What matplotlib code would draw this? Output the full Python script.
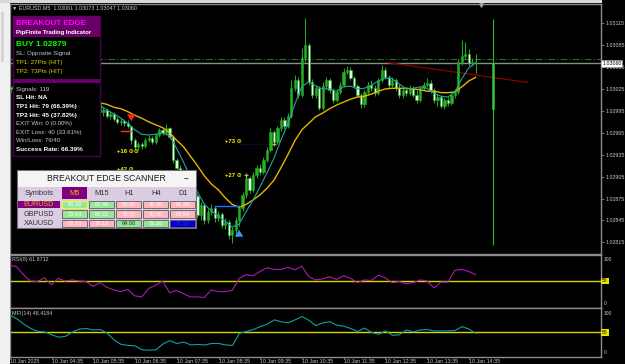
import numpy as np
import matplotlib.pyplot as plt
from matplotlib.patches import Rectangle
from matplotlib.transforms import blended_transform_factory

plt.rcParams['font.family'] = ['Liberation Sans', 'DejaVu Sans']

# EURUSD M5, 10 Jan 2025 from 03:35. prices in points above 1.00000 (3060 -> 1.03060)
opens = [3021, 3026, 3029, 3024, 3031, 3028, 3024, 3021, 3017, 3020, 3016, 3018, 3021, 3017, 3014,
         3017, 3013, 3016, 3011, 3009, 3010, 3006, 3007, 3009, 3004, 3002, 3004, 2993, 2996, 2988,
         2991, 2984, 2980, 2981, 2978, 2974, 2955, 2946, 2950, 2947, 2955, 2958, 2952, 2962, 2969,
         2965, 2971, 2959, 2928, 2917, 2911, 2903, 2893, 2887, 2878, 2852, 2866, 2846, 2857, 2862,
         2848, 2854, 2839, 2843, 2825, 2832, 2846, 2862, 2880, 2903, 2887, 2907, 2917, 2911, 2928,
         2942, 2966, 2952, 2971, 2983, 2974, 2988, 3026, 3037, 3017, 3067, 3085, 3035, 3017, 3026,
         2999, 3029, 3037, 3024, 3010, 3021, 3031, 3048, 3051, 3040, 3029, 3017, 3004, 3021, 3031,
         3026, 3020, 3037, 3051, 3041, 3031, 3037, 3026, 3017, 3024, 3020, 3026, 3017, 3010, 3026,
         3031, 3033, 3024, 3010, 3014, 3002, 3010, 3006, 3017, 3021, 3062, 3070, 3073, 3061, 3061]
highs = [3032, 3036, 3033, 3035, 3036, 3031, 3027, 3024, 3024, 3023, 3022, 3026, 3025, 3020, 3021,
         3020, 3019, 3019, 3014, 3015, 3013, 3011, 3013, 3012, 3008, 3008, 3007, 3000, 2999, 2995,
         2994, 2987, 2985, 2984, 2982, 2975, 2958, 2953, 2953, 2958, 2962, 2961, 2965, 2972, 2972,
         2977, 2973, 2962, 2931, 2921, 2915, 2906, 2897, 2890, 2881, 2870, 2869, 2861, 2867, 2865,
         2858, 2857, 2848, 2846, 2836, 2850, 2866, 2884, 2906, 2906, 2911, 2921, 2922, 2932, 2946,
         2972, 2969, 2975, 2987, 2986, 2992, 3037, 3044, 3041, 3081, 3122, 3088, 3038, 3030, 3029,
         3035, 3042, 3040, 3027, 3025, 3035, 3054, 3057, 3055, 3043, 3032, 3020, 3024, 3035, 3037,
         3030, 3040, 3058, 3055, 3044, 3041, 3040, 3032, 3027, 3028, 3030, 3029, 3024, 3029, 3035,
         3040, 3037, 3027, 3018, 3017, 3013, 3014, 3020, 3025, 3066, 3092, 3090, 3080, 3068, 3073]
lows = [3015, 3022, 3020, 3021, 3025, 3020, 3017, 3013, 3014, 3012, 3012, 3015, 3014, 3010, 3011,
        3009, 3010, 3008, 3005, 3006, 3003, 3002, 3004, 3001, 2998, 2999, 2990, 2988, 2985, 2984,
        2981, 2977, 2976, 2975, 2971, 2950, 2942, 2942, 2943, 2944, 2952, 2949, 2950, 2959, 2962,
        2962, 2956, 2924, 2913, 2906, 2899, 2889, 2882, 2873, 2848, 2846, 2840, 2842, 2853, 2843,
        2844, 2835, 2833, 2820, 2814, 2824, 2838, 2858, 2876, 2883, 2884, 2903, 2907, 2908, 2925,
        2939, 2948, 2949, 2968, 2970, 2971, 2985, 3022, 3013, 3014, 3062, 3031, 3012, 3013, 2996,
        2996, 3025, 3020, 3006, 3007, 3018, 3028, 3045, 3037, 3026, 3014, 2999, 3001, 3018, 3022,
        3016, 3017, 3034, 3038, 3027, 3028, 3022, 3013, 3013, 3016, 3017, 3014, 3006, 3007, 3023,
        3028, 3020, 3006, 3002, 2999, 2998, 3002, 3003, 3013, 3018, 3058, 3066, 3057, 3057, 3047]
closes = [3026, 3029, 3024, 3031, 3028, 3024, 3021, 3017, 3020, 3016, 3018, 3021, 3017, 3014, 3017,
          3013, 3016, 3011, 3009, 3010, 3006, 3007, 3009, 3004, 3002, 3004, 2993, 2996, 2988, 2991,
          2984, 2980, 2981, 2978, 2974, 2955, 2946, 2950, 2947, 2955, 2958, 2952, 2962, 2969, 2965,
          2971, 2959, 2928, 2917, 2911, 2903, 2893, 2887, 2878, 2852, 2866, 2846, 2857, 2862, 2848,
          2854, 2839, 2843, 2825, 2832, 2846, 2862, 2880, 2903, 2887, 2907, 2917, 2911, 2928, 2942,
          2966, 2952, 2971, 2983, 2974, 2988, 3026, 3037, 3017, 3067, 3085, 3035, 3017, 3026, 2999,
          3029, 3037, 3024, 3010, 3021, 3031, 3048, 3051, 3040, 3029, 3017, 3004, 3021, 3031, 3026,
          3020, 3037, 3051, 3041, 3031, 3037, 3026, 3017, 3024, 3020, 3026, 3017, 3010, 3026, 3031,
          3033, 3024, 3010, 3014, 3002, 3010, 3006, 3017, 3021, 3062, 3070, 3073, 3061, 3062, 3060]

# moving averages, every second bar
ma_fast = [3024, 3026, 3028, 3026, 3022, 3020, 3018, 3017, 3015, 3013, 3010, 3009, 3007, 3003, 2996,
           2991, 2985, 2978, 2969, 2963, 2962, 2963, 2965, 2961, 2944, 2925, 2904, 2884, 2867, 2858,
           2851, 2844, 2836, 2840, 2857, 2873, 2891, 2910, 2930, 2955, 2977, 3004, 3028, 3035, 3029,
           3025, 3025, 3022, 3028, 3029, 3025, 3026, 3030, 3036, 3040, 3039, 3032, 3025, 3026, 3028,
           3026, 3019, 3015, 3014, 3021, 3039, 3054, 3061]
ma_slow = [3026, 3026, 3025, 3024, 3022, 3021, 3020, 3017, 3015, 3013, 3011, 3010, 3009, 3006, 3004,
           3000, 2998, 2994, 2989, 2985, 2980, 2976, 2972, 2965, 2955, 2946, 2933, 2920, 2906, 2895,
           2887, 2876, 2867, 2863, 2867, 2873, 2880, 2889, 2900, 2917, 2935, 2954, 2969, 2978, 2987,
           2992, 2998, 3003, 3007, 3011, 3014, 3015, 3018, 3022, 3025, 3026, 3026, 3026, 3025, 3024,
           3022, 3022, 3020, 3020, 3021, 3028, 3036, 3041]

# RSI(8) and MFI(14), every second bar
rsi_vals = [80, 77, 62, 50, 49, 56, 43, 55, 50, 52, 50, 49, 40, 47, 38, 33, 30, 34, 22, 20,
            36, 42, 50, 28, 32, 26, 20, 20, 19, 33, 30, 30, 32, 55, 62, 60, 68, 75, 72, 72,
            76, 71, 78, 58, 52, 54, 58, 53, 60, 55, 47, 52, 51, 61, 56, 47, 49, 45, 47, 52,
            50, 37, 48, 48, 70, 72, 68, 62]
mfi_vals = [86, 78, 67, 58, 52, 51, 45, 40, 42, 51, 57, 58, 55, 56, 48, 34, 25, 23, 22, 14,
            13, 14, 26, 33, 27, 30, 24, 25, 24, 27, 27, 24, 23, 48, 52, 56, 62, 67, 76, 72,
            70, 76, 83, 75, 64, 70, 72, 65, 63, 58, 52, 59, 50, 46, 53, 44, 45, 55, 51, 55,
            56, 53, 53, 53, 54, 62, 57, 48]
rsi_last = 61.8712
mfi_last = 48.4184

time_labels = ['10 Jan 2025', '10 Jan 04:35', '10 Jan 05:35', '10 Jan 06:35', '10 Jan 07:35',
               '10 Jan 08:35', '10 Jan 09:35', '10 Jan 10:35', '10 Jan 11:35', '10 Jan 12:35',
               '10 Jan 13:35', '10 Jan 14:35']
label_bars = [0, 12, 24, 36, 48, 60, 72, 84, 96, 108, 120, 132]
price_ticks = [2815, 2845, 2875, 2905, 2935, 2965, 2995, 3025, 3055, 3085, 3115]

bid = 3060
level_line = 3066
trend_bars = [109, 149]
trend_pts = [3061, 3034]
future_bar = 139
future_ohlc = [2998, 3121, 2811, 3061]

# breakout edge signals
sell_bar, sell_level = 35, 2968
buy_bar, buy_level, buy_entry = 66, 2865, 2879
target_text = ['+16 ⊙⊙', '+42 ⊙', '+73 ⊙', '+27 ⊙']
target_bar = [31, 31, 62, 62]
target_pts = [2940, 2915, 2953, 2907]
tp1_pts, tp2_pts = 27, 73

signals, tp1_hits, tp2_hits, exit_win, exit_loss = 119, 79, 45, 0, 40

scan_symbols = ['EURUSD', 'GBPUSD', 'XAUUSD']
scan_tfs = ['M5', 'M15', 'H1', 'H4', 'D1']
scan_values = [[66.39, 67.46, 68.35, 70.45, 61.29],
               [73.64, 68.22, 75.38, 70.00, 68.54],
               [72.73, 72.12, 64.00, 72.16, 55.52]]
scan_state = [['up', 'up', 'dn', 'dn', 'dn'],
              ['up', 'up', 'dn', 'dn', 'dn'],
              ['dn', 'dn', 'up', 'up', 'na']]


def px(p):
    return 1 + np.asarray(p, dtype=float) / 1e5


W, H = 625, 364


def frame(x0, y0, x1, y1):
    return [x0 / W, 1 - y1 / H, (x1 - x0) / W, (y1 - y0) / H]


fig = plt.figure(figsize=(6.25, 3.64), dpi=100, facecolor='black')
ax = fig.add_axes(frame(10, 4, 601, 253.5), facecolor='black')
ax_rsi = fig.add_axes(frame(10, 254.5, 601, 307.5), facecolor='black')
ax_mfi = fig.add_axes(frame(10, 308.3, 601, 356.5), facecolor='black')
xlim = (0.144, 170.0)

# candles
o, h, l, c = px(opens), px(highs), px(lows), px(closes)
x = np.arange(len(o))
up = c >= o
wick = '#22a822'
body_bot = np.minimum(o, c)
body_h = np.maximum(np.abs(c - o), 0.000008)
ax.vlines(x, l, h, color=wick, lw=0.75, zorder=2)
ax.bar(x[up], body_h[up], bottom=body_bot[up], width=0.65, color='#26b026',
       edgecolor=wick, lw=0.4, zorder=3)
ax.bar(x[~up], body_h[~up], bottom=body_bot[~up], width=0.65, color='#ddffdd',
       edgecolor=wick, lw=0.4, zorder=3)

fo, fh, fl, fc = px(future_ohlc)
ax.vlines(future_bar, fl, fh, color='#2ab82a', lw=0.8, zorder=2)
ax.bar(future_bar, fc - fo, bottom=fo, width=0.75, color='#3cc83c', edgecolor='#2ab82a',
       lw=0.4, zorder=3)

ma_x = np.arange(0, len(o), 2)
ax.plot(ma_x, px(ma_slow), color='#e6b400', lw=1.0, zorder=4)
ax.plot(ma_x, px(ma_fast), color='#1fa5a5', lw=0.8, zorder=4)

ax.axhline(px(level_line), color='#1c7a1c', lw=0.8, ls=(0, (6, 2, 1, 2)), zorder=1)
ax.axhline(px(bid), color='#8c8c8c', lw=1.0, zorder=1)
ax.plot(trend_bars, px(trend_pts), color='#8b0000', lw=0.9, zorder=1)

# signals
ax.plot([sell_bar - 3, sell_bar], px([sell_level, sell_level]), color='#ff3030', lw=1.0, zorder=5)
ax.annotate('', xy=(sell_bar, px(highs[sell_bar] + 2)), xytext=(sell_bar, px(highs[sell_bar] + 15)),
            arrowprops=dict(arrowstyle='simple,head_width=0.6,head_length=0.5,tail_width=0.25',
                            color='#ff2020', lw=0), zorder=6)
ax.plot([buy_bar - 7, buy_bar], px([buy_level, buy_level]), color='#2070ff', lw=1.0, zorder=5)
ax.annotate('', xy=(buy_bar, px(lows[buy_bar] - 2)), xytext=(buy_bar, px(lows[buy_bar] - 15)),
            arrowprops=dict(arrowstyle='simple,head_width=0.6,head_length=0.5,tail_width=0.25',
                            color='#3399ff', lw=0), zorder=6)
ax.plot([buy_bar, buy_bar + 9.5], px([buy_entry + tp2_pts - 2] * 2), color='#1a1a80', lw=0.7,
        ls=':', zorder=1)
ax.plot([buy_bar + 10, buy_bar + 2], px([buy_entry + tp2_pts - 2, buy_entry + tp1_pts + 1]),
        ls='none', marker='+', ms=3.5, mew=0.9, color='#b8b860', zorder=6)
for t, b, p in zip(target_text, target_bar, target_pts):
    ax.text(b, px(p), t, color='#ffff00', fontsize=4.3, fontweight='bold', va='center',
            ha='left', zorder=6)

ax.set_xlim(*xlim)
ax.set_ylim(px(2799.7), px(3141.4))
ax.set_xticks([])
ax.yaxis.tick_right()
ax.set_yticks(px(price_ticks))
ax.set_yticklabels([f'{v:.5f}' for v in px(price_ticks)])
ax.tick_params(axis='y', colors='#9a9a9a', labelcolor='#c8c8c8', labelsize=3.8, length=2,
               width=0.5, pad=1.0)
right_t = blended_transform_factory(ax.transAxes, ax.transData)
ax.text(1.002, px(bid), f'{px(bid):.5f}', transform=right_t, fontsize=3.8, color='black',
        va='center', ha='left', clip_on=False, zorder=10,
        bbox=dict(fc='white', ec='#9a9a9a', lw=0.4, pad=0.6))

# indicator windows
for sub, vals, col, name, last in [(ax_rsi, rsi_vals, '#b018b0', 'RSI(8)', rsi_last),
                                    (ax_mfi, mfi_vals, '#10a0a0', 'MFI(14)', mfi_last)]:
    sub.plot(ma_x, vals, color=col, lw=0.8, zorder=3)
    sub.axhline(50, color='#d8d800', lw=1.0, zorder=2)
    sub.set_xlim(*xlim)
    sub.set_ylim(0, 100)
    sub.set_yticks([])
    sub.text(0.003, 0.9, f'{name} {last:.4f}', transform=sub.transAxes, color='#c8c8c8',
             fontsize=3.9, va='center', ha='left')
    sub.text(1.004, 0.9, '100', transform=sub.transAxes, color='#c8c8c8', fontsize=3.5,
             va='center', ha='left', clip_on=False)
    sub.text(1.004, 0.08, '0', transform=sub.transAxes, color='#c8c8c8', fontsize=3.5,
             va='center', ha='left', clip_on=False)
    tr = blended_transform_factory(sub.transAxes, sub.transData)
    sub.text(1.002, 50, '50', transform=tr, color='black', fontsize=3.5, va='center',
             ha='left', clip_on=False, bbox=dict(fc='#e8e800', ec='none', pad=0.7))
ax_rsi.set_xticks([])
ax_mfi.set_xticks(label_bars)
ax_mfi.set_xticklabels(time_labels, ha='left')
ax_mfi.tick_params(axis='x', colors='#9a9a9a', labelcolor='#c8c8c8', labelsize=3.8, length=1.5,
                   width=0.5, pad=0.5)

for a in (ax, ax_rsi, ax_mfi):
    for s in a.spines.values():
        s.set_color('#8c8c8c')
        s.set_linewidth(1.0)

# overlay panels in pixel units
ui = fig.add_axes([0, 0, 1, 1], facecolor='none', zorder=20)
ui.set_xlim(0, W)
ui.set_ylim(H, 0)
ui.axis('off')

ui.add_patch(Rectangle((0, 0), 9.5, H, fc='#f0f0f0', ec='none'))
ui.add_patch(Rectangle((0.5, 12), 3.5, 50, fc='#d4d4d4', ec='none'))
ui.add_patch(Rectangle((0, 0), 602, 3, fc='#d8d8d8', ec='none'))
ui.text(12, 7.3, f'▼ EURUSD,M5  {px(opens[-1]):.5f} {px(highs[-1]):.5f} '
        f'{px(lows[-1]):.5f} {px(closes[-1]):.5f}', color='#c8c8c8', fontsize=3.9, va='center')
ui.plot([481], [5], marker='v', ms=2.5, color='#a0a0a0')

# info panel
ui.add_patch(Rectangle((12.7, 15.7), 87.3, 140.3, fc='black', ec='#4a0050', lw=1.0))
ui.add_patch(Rectangle((12.7, 15.7), 87.3, 21.3, fc='#660066', ec='none'))
ui.add_patch(Rectangle((12.7, 78.7), 87.3, 4, fc='#660066', ec='none'))
ui.text(16.5, 23.3, 'BREAKOUT EDGE', color='#ff00ff', fontsize=5.8, fontweight='bold', va='center')
ui.text(16.5, 32.3, 'PipFinite Trading Indicator', color='white', fontsize=4.3,
        fontweight='bold', va='center')


def pct(n):
    return f'{100 * n / signals:.2f}%'


info = [(f'BUY {px(buy_entry):.5f}', 45.0, '#00ff00', 'bold', 6.0),
        ('SL: Opposite Signal', 53.3, '#c8c8c8', 'normal', 4.4),
        (f'TP1: {tp1_pts}Pts (HIT)', 62.3, '#d8d800', 'normal', 4.4),
        (f'TP2: {tp2_pts}Pts (HIT)', 71.0, '#d8d800', 'normal', 4.4),
        (f'Signals: {signals}', 89.0, '#c8c8c8', 'normal', 4.4),
        ('SL Hit: NA', 97.7, 'white', 'bold', 4.6),
        (f'TP1 Hit: {tp1_hits} ({pct(tp1_hits)})', 106.5, 'white', 'bold', 4.6),
        (f'TP2 Hit: {tp2_hits} ({pct(tp2_hits)})', 115.2, 'white', 'bold', 4.6),
        (f'EXIT Win: {exit_win} ({pct(exit_win)})', 123.7, '#c8c8c8', 'normal', 4.4),
        (f'EXIT Loss: {exit_loss} ({pct(exit_loss)})', 132.3, '#c8c8c8', 'normal', 4.4),
        (f'Win/Loss: {tp1_hits}/{exit_loss}', 140.7, '#c8c8c8', 'normal', 4.4),
        (f'Success Rate: {pct(tp1_hits)}', 149.5, 'white', 'bold', 4.6)]
for t, yy, col, wt, fs in info:
    ui.text(16.5, yy, t, color=col, fontsize=fs, fontweight=wt, va='center')

# scanner
ui.add_patch(Rectangle((17.3, 170), 178.7, 58.3, fc='#d9cce3', ec='#707070', lw=0.8))
ui.add_patch(Rectangle((17.8, 170.5), 177.7, 16.2, fc='#f4f4f4', ec='none'))
ui.text(106, 178.6, 'BREAKOUT EDGE SCANNER', color='#1a1a1a', fontsize=6.2, ha='center',
        va='center')
ui.text(186, 178.6, '–', color='#1a1a1a', fontsize=6, fontweight='bold', ha='center', va='center')
col_x = [62.3, 89.3, 116.3, 143.3, 170.3]
row_y = [200.5, 210.2, 219.5]
ui.text(39, 193.3, 'Symbols', color='#303030', fontsize=5.4, ha='center', va='center')
for j, tf in enumerate(scan_tfs):
    if j == 0:
        ui.add_patch(Rectangle((col_x[j], 187.3), 25, 11.7, fc='#800080', ec='none'))
    ui.text(col_x[j] + 12.5, 193.3, tf, color='#e8b400' if j == 0 else '#303030',
            fontsize=5.4, ha='center', va='center')
cell_fc = {'up': '#98e698', 'dn': '#ffb6c1', 'na': '#0000dd'}
for r, sym in enumerate(scan_symbols):
    if r == 0:
        ui.add_patch(Rectangle((18.3, row_y[r]), 41.7, 7.8, fc='#800080', ec='none'))
    ui.text(39, row_y[r] + 3.9, sym, color='#e8b400' if r == 0 else '#303030', fontsize=5.2,
            ha='center', va='center')
    for j in range(len(scan_tfs)):
        st = scan_state[r][j]
        edge = '#ffff00' if (r == 0 and j == 0) else '#5a5a5a'
        ui.add_patch(Rectangle((col_x[j], row_y[r]), 25, 7.8, fc=cell_fc[st], ec=edge, lw=0.6))
        tc = '#3030a0' if st == 'na' else ('#1a3a1a' if scan_values[r][j] == 64.00 else 'white')
        ui.text(col_x[j] + 12.5, row_y[r] + 4, f'{scan_values[r][j]:.2f}', color=tc,
                fontsize=4.1, ha='center', va='center')

fig.savefig('out.png', dpi=100, facecolor=fig.get_facecolor())
